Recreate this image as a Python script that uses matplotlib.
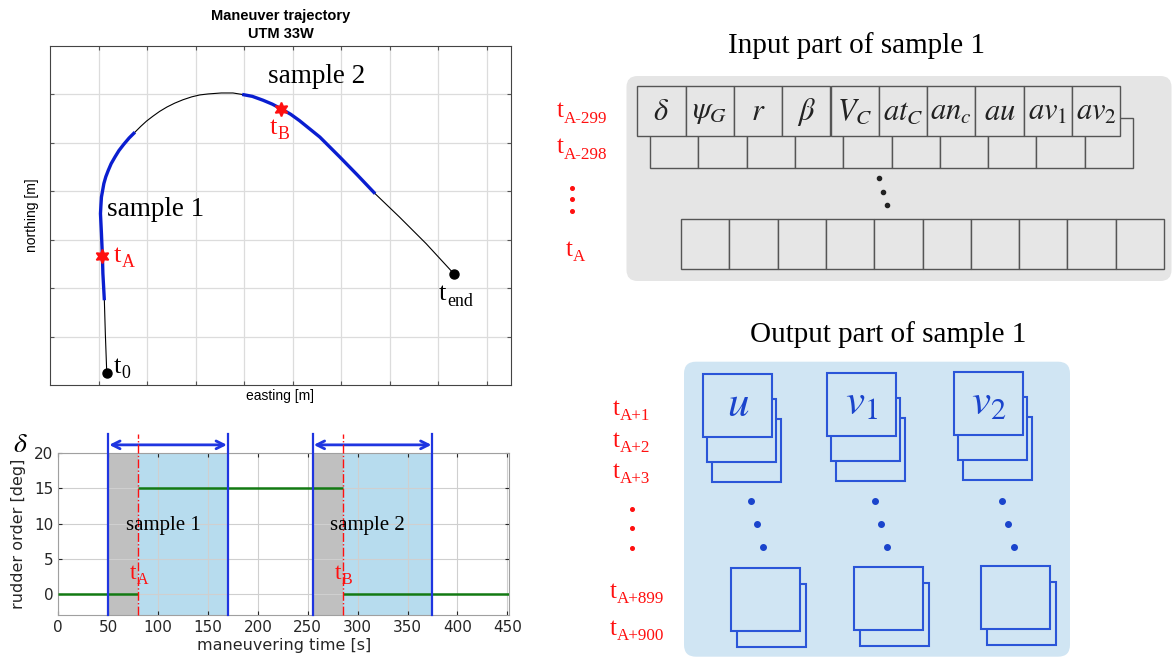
import numpy as np
import matplotlib
matplotlib.use('Agg')
import matplotlib.pyplot as plt
from matplotlib.patches import FancyBboxPatch, Rectangle

plt.rcParams['mathtext.fontset'] = 'stix'
plt.rcParams['font.family'] = 'DejaVu Sans'

SERIF = 'Liberation Serif'
SANS = 'Liberation Sans'

# ---- trajectory (grid units)
easting = [1.17, 1.14, 1.12, 1.09, 1.08, 1.06, 1.04, 1.05, 1.06, 1.11, 1.15, 1.20,
           1.26, 1.34, 1.42, 1.52, 1.63, 1.75, 1.87, 1.99, 2.12, 2.26, 2.41, 2.57,
           2.74, 2.92, 3.09, 3.26, 3.53, 3.77, 3.96, 4.17, 4.39, 4.58, 4.77, 4.96,
           5.14, 5.56, 5.97, 6.34, 6.70, 7.20, 7.75, 8.32]
northing = [0.24, 1.07, 1.75, 2.30, 2.66, 3.13, 3.54, 3.72, 3.88, 4.16, 4.30, 4.43,
            4.57, 4.71, 4.84, 4.97, 5.10, 5.22, 5.34, 5.45, 5.55, 5.65, 5.74, 5.82,
            5.89, 5.95, 5.99, 6.01, 6.03, 6.03, 6.00, 5.96, 5.88, 5.80, 5.70, 5.59,
            5.46, 5.12, 4.71, 4.33, 3.95, 3.47, 2.92, 2.30]
sample_idx = [(2, 17), (30, 40)]   # blue parts of the track
t_idx = {'A': 4, 'B': 34}

# ---- rudder order
rudder_edges = [0, 80, 285, 452]
rudder_deg = [0, 15, 0]
win_start = [50, 255]
win_t = [80, 285]
win_end = [170, 375]
win_names = ['A', 'B']

# ---- diagrams
input_vars = [r'$\delta$', r'$\psi_G$', r'$r$', r'$\beta$', r'$V_C$', r'$at_C$',
              r'$an_c$', r'$au$', r'$av_{\mathit{1}}$', r'$av_{\mathit{2}}$']
input_rows = ['A-299', 'A-298', 'A']
output_vars = [r'$u$', r'$v_{\mathit{1}}$', r'$v_{\mathit{2}}$']
output_rows = ['A+1', 'A+2', 'A+3', 'A+899', 'A+900']

BLUE = '#1f35e0'
LBLUE = '#b7dcee'
GRAY = '#c0c0c0'
GREEN = '#137a13'
RED = '#ff1010'
DBLUE = '#2a55d8'

fig = plt.figure(figsize=(11.73, 6.67), dpi=100)


def t_label(ax, x, y, sub, fs, color=RED, **kw):
    t = ax.text(x, y, 't', fontsize=fs, family=SERIF, color=color,
                ha='left', va='baseline', **kw)
    ax.annotate(sub, xy=(1, 0), xycoords=t, xytext=(0.3, -0.17 * fs),
                textcoords='offset points', fontsize=0.68 * fs, family=SERIF,
                color=color, ha='left', va='bottom', annotation_clip=False)


# ================= trajectory =================
ax1 = fig.add_axes([50 / 1173, 1 - 385 / 667, 461 / 1173, 339 / 667])
ax1.plot(easting, northing, color='black', lw=0.8)
for a, b in sample_idx:
    ax1.plot(easting[a:b + 1], northing[a:b + 1], color='#0a1ed0', lw=2.4,
             solid_capstyle='butt', solid_joinstyle='round')
for k, i in t_idx.items():
    ax1.plot(easting[i], northing[i], marker=(6, 1, 0), color=RED, ms=10,
             markeredgewidth=1.2)
ax1.plot([easting[0], easting[-1]], [northing[0], northing[-1]], 'o',
         color='black', ms=6.5)
ax1.set_xlim(0, 9.5)
ax1.set_ylim(0, 7)
ax1.set_xticks(range(1, 10))
ax1.set_yticks(range(1, 7))
ax1.tick_params(direction='in', length=3, labelbottom=False, labelleft=False,
                top=True, right=True, color='#555555')
ax1.grid(True, color='#dcdcdc', lw=0.9)
for s in ax1.spines.values():
    s.set_color('#444444')
ax1.set_xlabel('easting [m]', family=SANS, fontsize=10, labelpad=3)
ax1.set_ylabel('northing [m]', family=SANS, fontsize=10, labelpad=8)
ax1.set_title('Maneuver trajectory\nUTM 33W', family=SANS, fontsize=10.5,
              fontweight='bold', pad=6, linespacing=1.3)
ax1.text(2.18, 3.63, 'sample 1', family=SERIF, fontsize=19.5, ha='center', va='center')
ax1.text(5.49, 6.36, 'sample 2', family=SERIF, fontsize=19.5, ha='center', va='center')
t_label(ax1, 1.32, 2.54, 'A', 19)
t_label(ax1, 4.53, 5.19, 'B', 19)
t_label(ax1, 1.32, 0.25, '0', 19, color='black')
t_label(ax1, 8.02, 1.75, 'end', 19, color='black')

# ================= rudder order =================
ax2 = fig.add_axes([58.3 / 1173, 1 - 615 / 667, 451 / 1173, 161.7 / 667])
for s0, st, s1 in zip(win_start, win_t, win_end):
    ax2.axvspan(s0, st, color=GRAY, lw=0, zorder=0.5)
    ax2.axvspan(st, s1, color=LBLUE, lw=0, zorder=0.5)
ax2.hlines(rudder_deg, rudder_edges[:-1], rudder_edges[1:], color=GREEN, lw=1.8,
           zorder=3)
for s0, st, s1, nm in zip(win_start, win_t, win_end, win_names):
    for xx in (s0, s1):
        ax2.plot([xx, xx], [-3, 22.75], color=BLUE, lw=1.6, clip_on=False, zorder=4)
    ax2.plot([st, st], [-3, 22.75], color=RED, lw=1, ls='-.', clip_on=False, zorder=4)
    ax2.annotate('', xy=(s1 - 1, 21.2), xytext=(s0 + 1, 21.2),
                 arrowprops=dict(arrowstyle='<->', color=BLUE, lw=2,
                                 mutation_scale=14, shrinkA=0, shrinkB=0),
                 annotation_clip=False)
    ax2.text((s0 + s1) / 2 - 5, 9.7, 'sample %s' % ('1' if nm == 'A' else '2'),
             family=SERIF, fontsize=15, ha='center', va='center', zorder=5)
    t_label(ax2, st - 8, 2.1, nm, 17)
ax2.set_xlim(0, 452)
ax2.set_ylim(-3, 20)
ax2.set_xticks(range(0, 451, 50))
ax2.set_yticks(range(0, 21, 5))
ax2.tick_params(direction='in', length=3, labelsize=11, colors='#262626',
                top=True, right=True)
ax2.grid(True, color='#cfcfcf', lw=0.8)
for s in ax2.spines.values():
    s.set_color('#a0a0a0')
ax2.set_xlabel('maneuvering time [s]', fontsize=11.5, labelpad=2, color='#262626')
ax2.set_ylabel('rudder order [deg]', fontsize=11.5, labelpad=6, color='#262626')

# ================= overlay for diagrams =================
ov = fig.add_axes([0, 0, 1, 1])
ov.set_xlim(0, 1173)
ov.set_ylim(667, 0)
ov.axis('off')

ov.text(20, 444, r'$\delta$', fontsize=20, ha='center', va='center')

# ---- input part
ov.text(857, 46, 'Input part of sample 1', family=SERIF, fontsize=21,
        ha='center', va='center')
ov.add_patch(FancyBboxPatch((626.5, 76), 545, 205,
                            boxstyle='round,pad=0,rounding_size=11',
                            fc='#e5e5e5', ec='none'))
cw, ch = 48.3, 50
row_orig = [(650, 118), (637.3, 86), (681, 218.5)]   # back row first
for r, (x0, y0) in enumerate(row_orig):
    for j in range(len(input_vars)):
        ov.add_patch(Rectangle((x0 + j * cw, y0), cw, ch, fc='#e6e6e6',
                               ec='#555555', lw=1))
        if r == 1:
            ov.text(x0 + (j + 0.5) * cw, y0 + ch / 2 + 1, input_vars[j],
                    fontsize=22, ha='center', va='center', color='#222222')
ov.plot([879.3, 883.3, 887.3], [178, 191.5, 205], 'o', color='#222222', ms=3)

t_label(ov, 556.7, 117.3, input_rows[0], 18)
t_label(ov, 556.7, 153.3, input_rows[1], 18)
ov.plot([572, 572, 572], [187.7, 198.7, 210.7], 'o', color=RED, ms=2.6)
t_label(ov, 566, 255.7, input_rows[2], 18)

# ---- output part
ov.text(888, 335, 'Output part of sample 1', family=SERIF, fontsize=21,
        ha='center', va='center')
ov.add_patch(FancyBboxPatch((684, 361.7), 386, 295,
                            boxstyle='round,pad=0,rounding_size=12',
                            fc='#d0e5f3', ec='none'))
bw, bh = 69, 63
top_front = [(703.3, 374.3), (826.7, 373.3), (953.7, 372.3)]
bot_front = [(731, 568.3), (854, 567.3), (981, 566.3)]
for k in range(len(output_vars)):
    fx, fy = top_front[k]
    for dx, dy in [(9, 45), (4, 24.7), (0, 0)]:
        ov.add_patch(Rectangle((fx + dx, fy + dy), bw, bh, fc='#d0e5f3',
                               ec=DBLUE, lw=1.5))
    ov.text(fx + bw / 2, fy + bh / 2 - 2, output_vars[k], fontsize=31,
            ha='center', va='center', color='#1a44cc')
    bx, by = bot_front[k]
    for dx, dy in [(6, 16), (0, 0)]:
        ov.add_patch(Rectangle((bx + dx, by + dy), bw, bh, fc='#d0e5f3',
                               ec=DBLUE, lw=1.5))
    ov.plot([fx + 48, fx + 54, fx + 60], [501, 524.3, 547], 'o',
            color='#1a44cc', ms=4)

out_y = [415, 446.7, 477.7, 598, 635]
out_x = [613, 613, 613, 610, 610]
for nm, xx, yy in zip(output_rows, out_x, out_y):
    t_label(ov, xx, yy, nm, 18)
ov.plot([631.7, 631.7, 631.7], [509.3, 528.3, 547.7], 'o', color=RED, ms=2.6)

fig.savefig('out.png', dpi=100)
